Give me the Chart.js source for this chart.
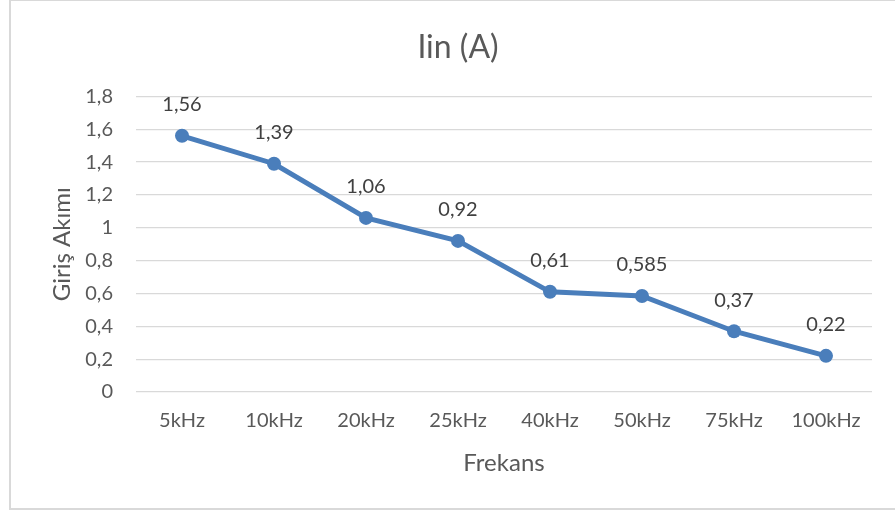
<!DOCTYPE html>
<html>
<head>
<meta charset="utf-8">
<script src="https://cdn.jsdelivr.net/npm/chart.js@4"></script>
<style>
  html, body { margin: 0; padding: 0; background: #fff; }
  #wrap { position: relative; width: 895px; height: 510px; }
  #frame { position: absolute; left: 9px; top: 0; width: 900px; height: 510px; border: 1px solid #d9d9d9; border-right: none; box-sizing: border-box; border-left-width: 2px; border-bottom-width: 2px; }
  canvas { position: absolute; left: 0; top: 0; }
</style>
</head>
<body>
<div id="wrap">
  <div id="frame"></div>
  <canvas id="c" width="895" height="510"></canvas>
</div>
<script>
const categories = ["5kHz", "10kHz", "20kHz", "25kHz", "40kHz", "50kHz", "75kHz", "100kHz"];
const currentValues = [1.56, 1.39, 1.06, 0.92, 0.61, 0.585, 0.37, 0.22];
const valueLabels = ["1,56", "1,39", "1,06", "0,92", "0,61", "0,585", "0,37", "0,22"];
const chartTitle = "Iin (A)";
const yTitle = "Giriş Akımı";
const xTitle = "Frekans";

const FONT = "Lato, 'Noto Sans', sans-serif";
const TXT = "#595959";

const dataLabelPlugin = {
  id: 'dataLabels',
  afterDatasetsDraw(chart) {
    const ctx = chart.ctx;
    const meta = chart.getDatasetMeta(0);
    ctx.save();
    ctx.font = "20px " + FONT;
    ctx.fillStyle = "#404040";
    ctx.textAlign = "center";
    ctx.textBaseline = "middle";
    meta.data.forEach((pt, i) => {
      ctx.fillText(valueLabels[i], pt.x, pt.y - 31);
    });
    ctx.restore();
  }
};

new Chart(document.getElementById('c'), {
  type: 'line',
  data: {
    labels: categories,
    datasets: [{
      data: currentValues,
      borderColor: '#4A7EBB',
      backgroundColor: '#4A7EBB',
      borderWidth: 5,
      pointRadius: 7,
      pointHoverRadius: 7,
      pointBorderWidth: 0,
      tension: 0,
      fill: false
    }]
  },
  options: {
    responsive: false,
    animation: false,
    devicePixelRatio: 1,
    layout: { padding: { left: 44, right: 23, top: 0, bottom: 32 } },
    plugins: {
      legend: { display: false },
      tooltip: { enabled: false },
      title: {
        display: true,
        text: chartTitle,
        color: TXT,
        font: { family: FONT, size: 32, weight: 'normal' },
        padding: { top: 28, bottom: 30 }
      }
    },
    scales: {
      x: {
        offset: true,
        grid: { display: false, drawTicks: false },
        border: { display: false },
        ticks: { color: TXT, font: { family: FONT, size: 20 }, padding: 17, maxRotation: 0 },
        title: { display: true, text: xTitle, color: TXT, font: { family: FONT, size: 24 }, padding: { top: 0, bottom: 0 } },
        afterFit(scale) { scale.height = 86; }
      },
      y: {
        min: 0, max: 1.8,
        grid: { color: '#d9d9d9', lineWidth: 1.3, drawTicks: false },
        border: { display: false },
        ticks: {
          stepSize: 0.2,
          color: TXT,
          font: { family: FONT, size: 20 },
          padding: 23,
          callback: (v) => { const r = Math.round(v * 10) / 10; return String(r).replace('.', ','); }
        },
        title: { display: true, text: yTitle, color: TXT, font: { family: FONT, size: 24 }, padding: { top: 4, bottom: 0 } },
        afterFit(scale) { scale.width = 92; }
      }
    }
  },
  plugins: [dataLabelPlugin]
});
</script>
</body>
</html>
